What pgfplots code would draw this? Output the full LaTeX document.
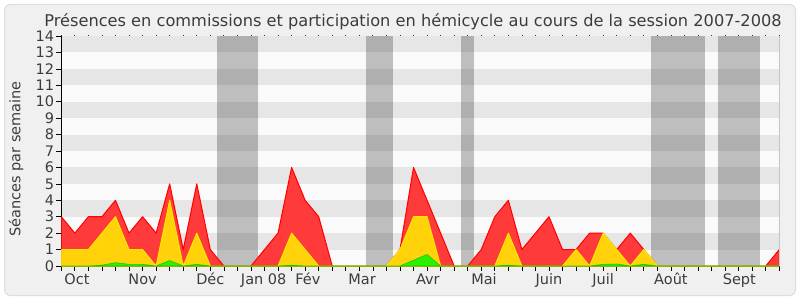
\documentclass[border=0pt]{standalone}
\usepackage{fontspec}
\setmainfont{DejaVu Sans}
\usepackage{pgfplots}
\pgfplotsset{compat=1.18}
\usepackage{pgfplotstable}
\definecolor{bgout}{RGB}{240,240,240}
\definecolor{bgedge}{RGB}{222,222,222}
\definecolor{plotbg}{RGB}{250,250,250}
\definecolor{vac}{RGB}{190,190,190}
\definecolor{redfill}{RGB}{255,58,58}
\definecolor{redline}{RGB}{255,0,0}
\definecolor{yelfill}{RGB}{255,210,10}
\definecolor{yelline}{RGB}{255,230,0}
\definecolor{grnfill}{RGB}{45,240,0}
\definecolor{grnline}{RGB}{20,200,0}
\definecolor{txt}{RGB}{60,60,60}
\pgfplotstableread{
w red yel grn
0 3 1 0
1 2 1 0
2 3 1 0
3 3 2 0.05
4 4 3 0.2
5 2 1 0.1
6 3 1 0.1
7 2 0 0
8 5 4 0.33
9 1 0 0
10 5 2 0.1
11 1 0 0
12 0 0 0
13 0 0 0
14 0 0 0
15 1 0 0
16 2 0 0
17 6 2 0.05
18 4 1 0
19 3 0 0
20 0 0 0
21 0 0 0
22 0 0 0
23 0 0 0
24 0 0 0
25 1 1 0
26 6 3 0.35
27 4 3 0.7
28 2 0 0
29 0 0 0
30 0 0 0
31 1 0 0
32 3 0 0
33 4 2 0.05
34 1 0 0
35 2 0 0
36 3 0 0
37 1 0 0
38 1 1 0
39 2 0 0
40 2 2 0.1
41 1 1 0.12
42 2 0 0
43 1 1 0.1
44 0 0 0
45 0 0 0
46 0 0 0
47 0 0 0
48 0 0 0
49 0 0 0
50 0 0 0
51 0 0 0
52 0 0 0
53 1 0 0
}\datatable
\begin{document}
\begin{tikzpicture}[x=1pt,y=1pt]
\path[use as bounding box] (0,0) rectangle (800,300);
\fill[white] (0,0) rectangle (800,300);
\draw[bgedge, fill=bgout, line width=1pt, rounded corners=6pt] (4.5,4.5) rectangle (795.5,295.5);
\begin{axis}[
  at={(61.3pt,34pt)}, anchor=south west,
  scale only axis, width=718pt, height=230pt,
  xmin=0, xmax=53, ymin=0, ymax=14,
  axis x line*=bottom, axis y line*=left,
  axis line style={black, line width=0.8pt},
  axis background/.style={fill=plotbg},
  xtick={0,...,53}, xticklabels={},
  ytick={0,...,14},
  tick align=outside,
  major tick length=5pt,
  tick style={black, line width=0.7pt},
  every tick label/.style={font=\fontsize{14.5}{14.5}\selectfont, text=txt},
  /pgf/number format/assume math mode=true,
  yticklabel style={inner sep=1pt, xshift=-1pt},
  extra x ticks={1.16,6.0,11.0,14.94,18.2,22.2,27.06,31.2,36.0,40.0,45.0,50.05},
  extra x tick labels={Oct,Nov,Déc,Jan 08,Fév,Mar,Avr,Mai,Juin,Juil,Août,Sept},
  extra x tick style={major tick length=0pt, tick label style={anchor=base, yshift=-18pt, font=\fontsize{14.5}{14.5}\selectfont, text=txt}},
  clip mode=individual,
]
% vacation bands
\addplot[draw=none, fill=vac, forget plot] coordinates {(11.5,0) (11.5,14) (14.5,14) (14.5,0)} -- cycle;
\addplot[draw=none, fill=vac, forget plot] coordinates {(22.5,0) (22.5,14) (24.5,14) (24.5,0)} -- cycle;
\addplot[draw=none, fill=vac, forget plot] coordinates {(29.5,0) (29.5,14) (30.5,14) (30.5,0)} -- cycle;
\addplot[draw=none, fill=vac, forget plot] coordinates {(43.5,0) (43.5,14) (47.55,14) (47.55,0)} -- cycle;
\addplot[draw=none, fill=vac, forget plot] coordinates {(48.5,0) (48.5,14) (51.55,14) (51.55,0)} -- cycle;
% horizontal stripes
\addplot[draw=none, fill=black, fill opacity=0.08, forget plot] coordinates {(0,1) (53,1) (53,2) (0,2)} -- cycle;
\addplot[draw=none, fill=black, fill opacity=0.08, forget plot] coordinates {(0,3) (53,3) (53,4) (0,4)} -- cycle;
\addplot[draw=none, fill=black, fill opacity=0.08, forget plot] coordinates {(0,5) (53,5) (53,6) (0,6)} -- cycle;
\addplot[draw=none, fill=black, fill opacity=0.08, forget plot] coordinates {(0,7) (53,7) (53,8) (0,8)} -- cycle;
\addplot[draw=none, fill=black, fill opacity=0.08, forget plot] coordinates {(0,9) (53,9) (53,10) (0,10)} -- cycle;
\addplot[draw=none, fill=black, fill opacity=0.08, forget plot] coordinates {(0,11) (53,11) (53,12) (0,12)} -- cycle;
\addplot[draw=none, fill=black, fill opacity=0.08, forget plot] coordinates {(0,13) (53,13) (53,14) (0,14)} -- cycle;
% data areas
\addplot[draw=redline, line width=1pt, fill=redfill, line join=round] table[x=w, y=red] {\datatable} \closedcycle;
\addplot[draw=yelline, line width=1pt, fill=yelfill, line join=round] table[x=w, y=yel] {\datatable} \closedcycle;
\addplot[draw=grnline, line width=0.6pt, fill=grnfill, line join=round] table[x=w, y=grn] {\datatable} \closedcycle;
% right border and top tick dots
\draw[gray!45, line width=0.8pt] (rel axis cs:1,0) -- (rel axis cs:1,1);
\pgfplotsinvokeforeach{0,...,53}{ \fill[black!80] (axis cs:#1,14) ++(-0.4pt,0) rectangle ++(0.8pt,1pt); }
\end{axis}
\node[anchor=base, text=txt, font=\fontsize{16.2}{16.2}\selectfont, inner sep=0pt] at (413,273.3) {Présences en commissions et participation en hémicycle au cours de la session 2007-2008};
\node[rotate=90, text=txt, font=\fontsize{14.5}{14.5}\selectfont, inner sep=0pt] at (16,141) {Séances par semaine};
\end{tikzpicture}
\end{document}
